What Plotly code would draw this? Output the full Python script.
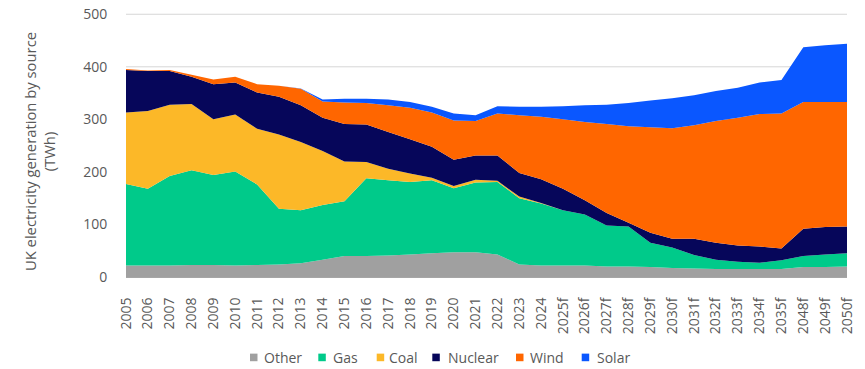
import plotly.graph_objects as go

categories = [str(y) for y in range(2005, 2025)] + [f"{y}f" for y in range(2025, 2036)] + ["2048f", "2049f", "2050f"]

other = [22, 22, 22, 23, 23, 22, 23, 24, 26, 33, 40, 40, 41, 43, 45, 47, 47, 43, 24, 22,
         22, 22, 20, 20, 19, 17, 16, 15, 15, 15, 15, 19, 19, 20]
gas = [155, 146, 170, 180, 171, 179, 153, 106, 101, 104, 104, 148, 143, 138, 139, 122, 133, 138, 126, 118,
       105, 97, 78, 76, 46, 39, 26, 18, 14, 12, 17, 21, 24, 25]
coal = [136, 148, 136, 126, 106, 108, 106, 141, 130, 103, 76, 31, 22, 16, 5, 4, 5, 2, 3, 1,
        0, 0, 0, 0, 0, 0, 0, 0, 0, 0, 0, 0, 0, 0]
nuclear = [81, 76, 64, 52, 67, 61, 69, 72, 70, 63, 71, 71, 70, 65, 59, 50, 46, 48, 45, 45,
           41, 27, 24, 7, 19, 17, 31, 32, 31, 31, 22, 52, 52, 51]
wind = [2, 1, 2, 4, 9, 11, 16, 21, 31, 31, 41, 41, 51, 60, 65, 75, 66, 80, 110, 119,
        132, 149, 169, 184, 201, 210, 216, 232, 243, 252, 257, 241, 238, 237]
solar = [0, 0, 0, 0, 0, 0, 0, 0, 0.5, 4, 7, 8, 11, 11, 11, 13, 11, 14, 16, 19,
         25, 32, 37, 44, 51, 57, 57, 57, 57, 60, 64, 104, 108, 111]

names = ["Other", "Gas", "Coal", "Nuclear", "Wind", "Solar"]
colors = ["#A0A0A0", "#00CA8A", "#FCB828", "#06065A", "#FF6600", "#0A57FF"]
values = [other, gas, coal, nuclear, wind, solar]
y_ticks = [0, 100, 200, 300, 400, 500]
y_title = "UK electricity generation by source<br>(TWh)"

fig = go.Figure()
for name, vals, color in zip(names, values, colors):
    fig.add_trace(go.Scatter(
        x=categories, y=vals, name=name, stackgroup="one", mode="none",
        fillcolor=color, line=dict(width=0, color=color), showlegend=False,
    ))

W, H = 865, 369
YMAX = 510
plot_bottom = 277.5            # px of value 0
px_per_unit = (277.5 - 14.5) / 500
l, r, b = 126, 18, H - plot_bottom
t = plot_bottom - YMAX * px_per_unit
pw, ph = W - l - r, H - t - b


def px_x(xv):
    return (xv - l) / pw


def px_y(yv):
    return (plot_bottom - yv) / ph


# gridlines drawn as shapes beneath the areas
for v in y_ticks[1:]:
    fig.add_shape(type="line", xref="paper", yref="y", x0=0, x1=1, y0=v, y1=v,
                  line=dict(color="#D6D6D6", width=1), layer="below")

# legend (square swatch + label), positions in pixels
swatch_x = [250, 318.3, 376.7, 432.3, 516, 581.7]
label_x = [262, 331, 386.5, 446, 528, 595]
leg_y = 358
for name, color, sx, lx in zip(names, colors, swatch_x, label_x):
    fig.add_shape(type="rect", xref="paper", yref="paper",
                  x0=px_x(sx), x1=px_x(sx + 7.5), y0=px_y(leg_y + 3.8), y1=px_y(leg_y - 3.8),
                  fillcolor=color, line=dict(width=0))
    fig.add_annotation(text=name, xref="paper", yref="paper", x=px_x(lx), y=px_y(leg_y),
                       xanchor="left", yanchor="middle", showarrow=False,
                       font=dict(size=14, color="#595959"))

# y-axis title
fig.add_annotation(text=y_title, xref="paper", yref="paper", x=px_x(39), y=px_y(152.5),
                   xanchor="center", yanchor="middle", textangle=-90, showarrow=False,
                   font=dict(size=14.8, color="#595959"))

fig.update_layout(
    width=W, height=H,
    margin=dict(l=l, r=r, t=t, b=b, autoexpand=False),
    paper_bgcolor="white", plot_bgcolor="white",
    font=dict(family="Open Sans, sans-serif", size=14, color="#595959"),
    showlegend=False,
    xaxis=dict(type="category", range=[0, len(categories) - 1], tickangle=-90,
               showgrid=False, showline=True, linecolor="#A6A6A6", linewidth=1,
               ticks="outside", ticklen=14, tickcolor="rgba(0,0,0,0)",
               tickfont=dict(size=14, color="#595959")),
    yaxis=dict(range=[0, YMAX], tickvals=y_ticks,
               showgrid=False, zeroline=False,
               ticks="outside", ticklen=15, tickcolor="rgba(0,0,0,0)",
               tickfont=dict(size=14, color="#595959")),
)

fig.write_html("out.html", config={"displayModeBar": False},
               post_script="document.body.style.margin='0';")
